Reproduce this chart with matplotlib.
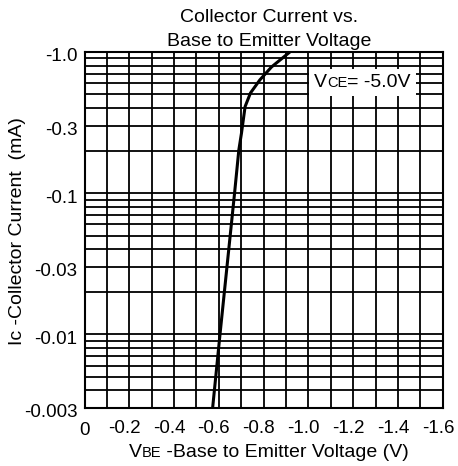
import numpy as np
import matplotlib
matplotlib.use("Agg")
import matplotlib.pyplot as plt
from matplotlib.offsetbox import TextArea, HPacker, AnnotationBbox
from matplotlib.transforms import ScaledTranslation

plt.rcParams['font.family'] = ['Liberation Sans', 'DejaVu Sans']

# curve: base-emitter voltage (V) vs collector current (mA)
vbe = [-0.572, -0.605, -0.636, -0.670, -0.689, -0.701, -0.717, -0.741, -0.783, -0.835, -0.917]
ic = [-0.003, -0.01, -0.03, -0.1, -0.202, -0.267, -0.41, -0.512, -0.634, -0.783, -1.0]

x_ticks = [0, -0.2, -0.4, -0.6, -0.8, -1.0, -1.2, -1.4, -1.6]
x_labels = ['0', '-0.2', '-0.4', '-0.6', '-0.8', '-1.0', '-1.2', '-1.4', '-1.6']
y_ticks = [-1.0, -0.3, -0.1, -0.03, -0.01, -0.003]
y_labels = ['-1.0', '-0.3', '-0.1', '-0.03', '-0.01', '-0.003']

fs = 13.5   # tick labels
fl = 14     # titles and axis labels
fig = plt.figure(figsize=(4.58, 4.66), dpi=100)
ax = fig.add_axes([0.1845, 0.1245, 0.7825, 0.764])

# x axis runs to more negative voltages, y is the magnitude of Ic on a log scale
ax.set_yscale('log')
ax.set_xlim(0, -1.6)
ax.set_ylim(0.003, 1.0)

# grid: every 0.1 V and every log minor step
for v in np.arange(-0.1, -1.6, -0.1):
    ax.axvline(v, color='black', lw=1.3, zorder=1)
for dec in [0.001, 0.01, 0.1]:
    for k in range(1, 10):
        val = dec * k
        if 0.003 < val < 1.0:
            ax.axhline(val, color='black', lw=1.3, zorder=1)

ax.plot(vbe, np.abs(ic), color='black', lw=2.2, zorder=3)

ax.set_xticks(x_ticks)
ax.set_xticklabels(x_labels, fontsize=fs)
ax.set_yticks(np.abs(y_ticks))
ax.set_yticklabels(y_labels, fontsize=fs)
ax.yaxis.set_minor_locator(plt.NullLocator())
ax.tick_params(length=0, pad=5)

# nudge tick labels the way the original sits them
px = 1 / 100
for lab in ax.get_yticklabels():
    lab.set_transform(lab.get_transform() + ScaledTranslation(0, -3 * px, fig.dpi_scale_trans))
for i, lab in enumerate(ax.get_xticklabels()):
    dx = 0 if i == 0 else -5
    dy = -7 if i == 0 else -5
    lab.set_transform(lab.get_transform() + ScaledTranslation(dx * px, dy * px, fig.dpi_scale_trans))
for s in ax.spines.values():
    s.set_linewidth(1.5)

# title
fig.text(0.587, 0.962, 'Collector Current vs.', ha='center', va='center', fontsize=fl)
fig.text(0.587, 0.911, 'Base to Emitter Voltage', ha='center', va='center', fontsize=fl)

# y label
fig.text(0.038, 0.505, 'Ic -Collector Current  (mA)', rotation=90, ha='center', va='center', fontsize=fl)

# x label with small-cap subscript
xl = HPacker(children=[TextArea('V', textprops=dict(fontsize=fl)),
                       TextArea('BE', textprops=dict(fontsize=fl - 3.5)),
                       TextArea(' -Base to Emitter Voltage (V)', textprops=dict(fontsize=fl))],
             align='baseline', pad=0, sep=0)
fig.add_artist(AnnotationBbox(xl, (0.587, 0.028), xycoords='figure fraction', frameon=False))

# V_CE label box
vl = HPacker(children=[TextArea('V', textprops=dict(fontsize=fl)),
                       TextArea('CE', textprops=dict(fontsize=fl - 3.5)),
                       TextArea('= -5.0V', textprops=dict(fontsize=fl))],
             align='baseline', pad=0, sep=0)
ab = AnnotationBbox(vl, (0.7915, 0.824), xycoords='figure fraction', frameon=True, pad=0.36,
                    bboxprops=dict(facecolor='white', edgecolor='none'))
ab.set_zorder(5)
fig.add_artist(ab)

fig.savefig('out.png', dpi=100)
